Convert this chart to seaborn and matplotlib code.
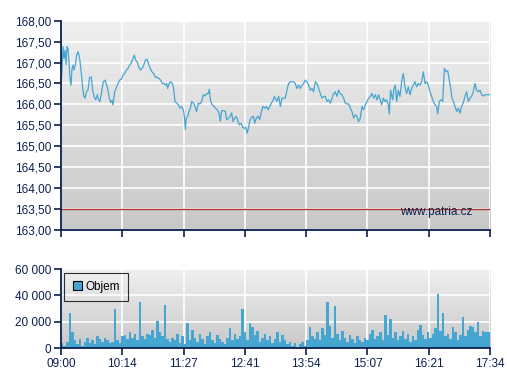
import numpy as np
import pandas as pd
import seaborn as sns
import matplotlib.pyplot as plt
from matplotlib.ticker import FuncFormatter
from matplotlib.patches import Patch

# price, minutes after 09:00
price_min = [0, 1.2, 2.4, 3.6, 4.8, 6.0, 7.2, 8.4, 9.6, 10.8, 12.0, 13.2, 14.4, 15.6, 17.2,
             18.8, 20.4, 21.6, 22.8, 24.4, 26.0, 27.2, 28.8, 30.4, 32.3, 34.3, 36.3, 37.9,
             39.5, 41.5, 43.5, 45.1, 46.7, 48.7, 50.7, 52.7, 54.7, 56.3, 57.9, 59.5, 61.1,
             62.3, 64.3, 66.3, 68.3, 70.3, 72.3, 74.3, 76.3, 78.3, 80.3, 82.3, 84.3, 86.3,
             87.9, 89.5, 91.1, 93.1, 95.1, 97.1, 99.1, 101.1, 103.1, 105.0, 107.0, 109.0,
             111.0, 113.0, 115.0, 117.4, 119.4, 121.4, 123.4, 125.4,
             126.6, 127.8, 129.4, 131.4, 133.4, 134.8, 136.6, 138.6, 140.6, 142.6, 144.6,
             146.6, 147.8, 149.0, 150.2, 151.8, 153.4, 155.0, 156.6, 158.6, 160.5, 162.5,
             164.5, 166.5, 168.5, 170.5, 172.5, 174.5, 176.5, 177.7, 179.3, 181.3, 183.3,
             185.3, 187.3, 189.3, 190.9, 192.5, 194.9, 196.9, 198.5, 200.5, 202.5, 204.5,
             206.1, 208.1, 210.1, 212.1, 213.7, 215.7, 217.7, 219.7, 221.3, 222.9, 224.5,
             226.5, 228.5, 230.5, 232.1, 234.1, 236.1, 238.1, 240.1, 242.1, 244.1, 246.1,
             248.1, 250.1, 252.1, 254.1, 255.6,
             258.8, 260.8, 262.8, 264.8, 266.7, 268.7, 270.7, 272.7, 274.7, 276.7, 278.7,
             280.7, 282.7, 284.7, 286.7, 288.7, 290.7, 292.7, 294.7, 296.7, 298.7, 300.7,
             302.7, 304.7, 306.7, 308.7, 310.7, 312.7, 314.7, 316.7, 318.7, 320.7, 322.7,
             324.7, 326.7, 328.6, 330.6, 332.6, 334.6, 336.6, 338.6, 340.6, 342.6, 344.6,
             346.6, 348.6, 350.6, 352.6, 354.6, 356.6, 358.6, 360.6, 362.6, 364.6, 366.6,
             368.6, 370.6, 372.6, 374.6, 376.6, 378.6, 380.6,
             384.2, 386.2, 388.2, 390.1, 392.1, 393.3, 394.9, 397.3, 398.9, 400.5, 402.1,
             404.1, 406.1, 408.1, 410.1, 412.1, 414.1, 416.1, 418.1, 420.1, 422.1, 424.1,
             426.1, 428.1, 430.1, 432.1, 434.1, 436.1, 438.1, 440.1, 442.1, 444.1, 446.1,
             448.1, 450.1, 451.3, 453.3, 455.3, 457.3, 459.3, 461.3, 463.3, 464.9, 466.9,
             468.5, 470.1, 472.1, 474.1, 476.1, 478.0, 480.0, 482.0, 484.0, 486.0, 488.0,
             490.0, 492.0, 494.0, 496.0, 498.0, 500.0, 502.0, 504.0, 506.0, 508.0, 510.8, 514.0]
price = [166.55, 166.80, 167.38, 167.10, 167.30, 166.95, 167.38, 167.34, 167.00, 166.62, 166.46,
         166.85, 166.94, 166.82, 166.95, 167.18, 167.26, 167.18, 167.02, 166.74, 166.40,
         166.20, 166.15, 166.30, 166.34, 166.65, 166.65, 166.34, 166.20, 166.11, 166.23,
         166.11, 166.07, 166.30, 166.54, 166.58, 166.46, 166.34, 166.15, 166.05, 166.10,
         165.99, 166.30, 166.40, 166.50, 166.58, 166.60, 166.70, 166.74, 166.82, 166.86,
         166.94, 167.00, 167.10, 167.18, 167.06, 167.02, 166.90, 166.82, 166.86, 166.94,
         167.06, 167.08, 166.96, 166.86, 166.78, 166.74, 166.65, 166.65, 166.62, 166.58,
         166.50, 166.50, 166.46,
         166.50, 166.38, 166.50, 166.54, 166.50, 166.40, 166.07, 166.03, 165.99, 165.91,
         165.95, 165.87, 165.71, 165.40, 165.67, 165.71, 165.83, 165.91, 166.07, 166.03,
         165.95, 165.83, 166.03, 166.01, 166.07, 166.23, 166.20, 166.26, 166.26, 166.36,
         166.07, 165.99, 165.95, 165.91, 165.87, 165.79, 165.60, 165.85, 165.85, 165.83,
         165.63, 165.67, 165.71, 165.80, 165.59, 165.67, 165.71, 165.60, 165.51, 165.55,
         165.45, 165.43, 165.45, 165.31, 165.43, 165.63, 165.69, 165.72, 165.55, 165.67,
         165.72, 165.64, 165.83, 165.95, 165.91, 165.95, 165.87, 165.95, 166.03, 166.10, 166.19,
         166.07, 166.19, 165.95, 166.15, 166.15, 166.15, 166.34, 166.50, 166.54, 166.54,
         166.54, 166.50, 166.38, 166.46, 166.38, 166.46, 166.50, 166.58, 166.54, 166.46,
         166.34, 166.38, 166.30, 166.54, 166.50, 166.38, 166.26, 166.15, 166.19, 166.19,
         166.07, 166.11, 166.03, 166.15, 166.26, 166.30, 166.19, 166.34, 166.26, 166.23,
         166.15, 166.03, 166.01, 166.01, 165.91, 165.83, 165.67, 165.75, 165.71, 165.59,
         165.67, 165.95, 165.87, 165.99, 166.07, 166.15, 166.19, 166.26, 166.15, 166.23,
         166.11, 166.23,
         165.99, 166.15, 166.07, 166.11, 165.99, 165.77, 166.34, 166.11, 166.38, 166.46,
         166.07, 166.34, 166.19, 166.54, 166.74, 166.42, 166.26, 166.42, 166.23, 166.38,
         166.46, 166.54, 166.42, 166.50, 166.46, 166.54, 166.78, 166.50, 166.54, 166.46,
         166.30, 166.19, 166.07, 165.99, 165.95, 165.77, 166.07, 166.11, 166.07, 166.86,
         166.78, 166.81, 166.62, 166.38, 166.15, 166.07, 165.95, 165.83, 165.91, 165.79,
         165.95, 166.04, 166.19, 166.30, 166.07, 166.15, 166.20, 166.30, 166.50, 166.34,
         166.30, 166.34, 166.23, 166.20, 166.23, 166.23, 166.23]

# volume in thousands, one bar per 3 minutes
vol_k = [4, 2, 5, 27, 12, 6, 3, 7, 2, 5,
         8, 4, 6, 3, 9, 7, 5, 8, 6, 4,
         5, 30, 6, 4, 9, 10, 7, 12, 8, 11,
         6, 35, 9, 7, 11, 10, 14, 8, 21, 12,
         9, 33, 7, 5, 8, 6, 11, 4, 9, 3,
         19, 6, 14, 8, 5, 11, 7, 3, 9, 12,
         6, 4, 10, 7, 5, 3, 8, 15, 6, 11,
         7, 9, 30, 12, 6, 19, 16, 10, 13, 5,
         8, 11, 6, 9, 4, 7, 12, 5, 10, 6,
         3, 5, 2, 4, 1, 3, 5, 2, 6, 16,
         9, 7, 12, 6, 15, 10, 35, 17, 8, 32,
         11, 6, 13, 8, 5, 10, 7, 4, 9, 6,
         5, 8, 6, 11, 14, 7, 9, 12, 6, 25,
         10, 22, 8, 12, 6, 9, 13, 7, 11, 5,
         9, 6, 14, 18, 10, 7, 12, 8, 11, 15,
         41, 13, 27, 9, 11, 7, 16, 12, 6, 10,
         24, 9, 14, 17, 16, 12, 20, 9, 13, 12,
         12, 12]
vol_step = 3

time_labels = ["09:00", "10:14", "11:27", "12:41", "13:54", "15:07", "16:21", "17:34"]
session_len = 514
ref_level = 163.5

blue = "#45a6d2"
navy = "#0b1f4f"

sns.set_style("ticks")
plt.rcParams['font.family'] = ['Liberation Sans', 'DejaVu Sans']
plt.rcParams['font.size'] = 8.5

price_df = pd.DataFrame({"t": price_min, "price": price})
vol_df = pd.DataFrame({"t": np.arange(len(vol_k)) * vol_step + vol_step / 2,
                       "vol": np.array(vol_k) * 1000})

fig = plt.figure(figsize=(5.07, 3.8), dpi=100)
ax1 = fig.add_axes([0.1203, 0.3953, 0.8462, 0.55])
ax2 = fig.add_axes([0.1203, 0.0834, 0.8462, 0.2087])

grad = np.linspace(0, 1, 256).reshape(-1, 1)
xticks = np.linspace(0, session_len, len(time_labels))

for ax in (ax1, ax2):
    ax.imshow(grad, cmap=sns.blend_palette(["#f0f0f0", "#c8c8c8"], as_cmap=True),
              extent=[0, 1, 0, 1], transform=ax.transAxes, aspect="auto", zorder=0)
    ax.set_xlim(0, session_len)
    ax.set_xticks(xticks)
    ax.grid(True, color="white", linewidth=1.2, zorder=1)
    ax.set_axisbelow(False)
    sns.despine(ax=ax)
    for s in ("left", "bottom"):
        ax.spines[s].set_color(navy)
        ax.spines[s].set_linewidth(1.3)
        ax.spines[s].set_zorder(5)
    ax.tick_params(colors=navy, labelcolor=navy, length=5, width=1.2, direction="out",
                   labelsize=8.5, pad=2)

# price panel
sns.lineplot(data=price_df, x="t", y="price", ax=ax1, color=blue, linewidth=0.9, zorder=3)
ax1.axhline(ref_level, color="#b03a2e", linewidth=1.0, zorder=3)
ax1.set_ylim(163, 168)
ax1.set_yticks(np.arange(163, 168.01, 0.5))
ax1.yaxis.set_major_formatter(FuncFormatter(lambda v, p: f"{v:.2f}".replace(".", ",")))
ax1.tick_params(labelbottom=False)
ax1.set_xlabel("")
ax1.set_ylabel("")
ax1.text(0.96, 0.087, "www.patria.cz", transform=ax1.transAxes, ha="right", va="center",
         color=navy, fontsize=8.5, zorder=4)

# volume panel
sns.histplot(data=vol_df, x="t", weights="vol", ax=ax2, binwidth=vol_step,
             binrange=(0, len(vol_k) * vol_step), color=blue, alpha=1, linewidth=0,
             element="bars", antialiased=False, zorder=3)
ax2.set_xlim(0, session_len)
ax2.set_ylim(0, 60000)
ax2.set_yticks([0, 20000, 40000, 60000])
ax2.yaxis.set_major_formatter(FuncFormatter(lambda v, p: f"{int(v):,}".replace(",", " ")))
ax2.set_xticks(xticks)
ax2.set_xticklabels(time_labels)
ax2.set_xlabel("")
ax2.set_ylabel("")
leg = ax2.legend(handles=[Patch(facecolor=blue, edgecolor="black", linewidth=0.8, label="Objem")],
                 loc="upper left", bbox_to_anchor=(0.008, 0.955), frameon=True, fancybox=False,
                 edgecolor="black", facecolor="none", handlelength=0.75, handleheight=0.75,
                 borderpad=0.7, handletextpad=0.35, borderaxespad=0, fontsize=8.5)
leg.get_frame().set_linewidth(0.8)
for t in leg.get_texts():
    t.set_color("black")

fig.savefig("out.png", dpi=100)
